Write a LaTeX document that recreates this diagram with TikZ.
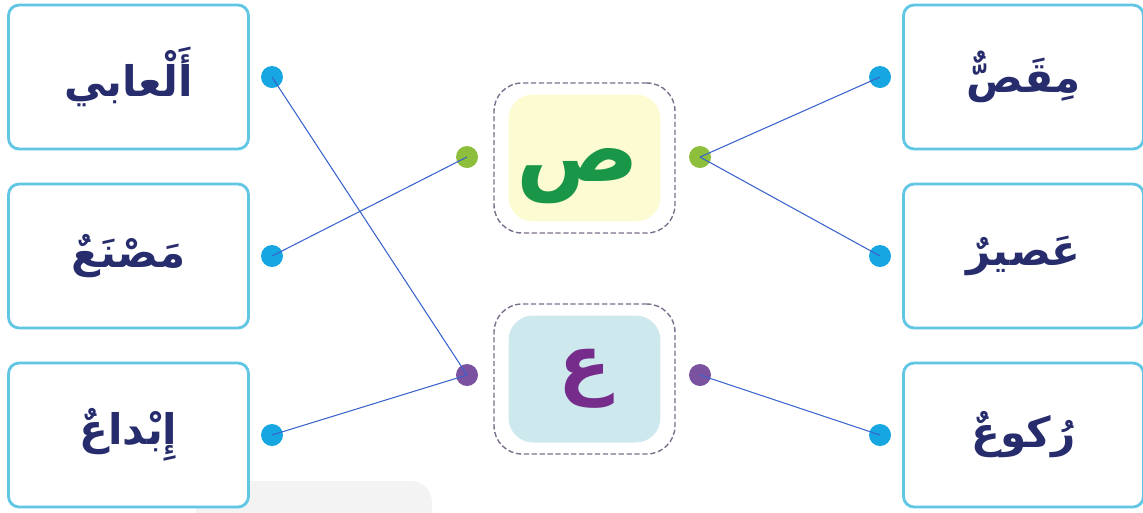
\documentclass[tikz,border=0pt]{standalone}
\usepackage{fontspec}
\newfontfamily\arabicfont[Script=Arabic]{DejaVu Sans}
\TeXXeTstate=1
\usetikzlibrary{positioning}
\definecolor{boxblue}{RGB}{96,198,228}
\definecolor{dotblue}{RGB}{22,166,226}
\definecolor{dotgreen}{RGB}{141,190,60}
\definecolor{dotpurple}{RGB}{122,82,160}
\definecolor{wordnavy}{RGB}{38,44,108}
\definecolor{lettergreen}{RGB}{26,150,72}
\definecolor{letterpurple}{RGB}{118,44,138}
\definecolor{paleyellow}{RGB}{253,251,210}
\definecolor{paleteal}{RGB}{206,233,237}
\definecolor{dashgrey}{RGB}{125,112,140}
\definecolor{lineblue}{RGB}{58,98,205}
\definecolor{fadegrey}{RGB}{243,243,243}

\tikzset{
  wordbox/.style={draw=boxblue, line width=1.6pt, rounded corners=6pt, fill=white,
    minimum width=4.8cm, minimum height=2.88cm, inner sep=0pt,
    font=\arabicfont\bfseries\fontsize{24}{28}\selectfont, text=wordnavy},
  matchdot/.style={circle, minimum size=0.44cm, inner sep=0pt},
  letterpad/.style={rounded corners=14pt, minimum width=3.04cm, minimum height=2.54cm,
    inner sep=0pt},
  bigletter/.style={inner sep=0pt, font=\arabicfont\bfseries\fontsize{#1}{#1}\selectfont},
  letterframe/.style={draw=dashgrey, dash pattern=on 3pt off 1.5pt, line width=0.8pt,
    rounded corners=16pt, minimum width=3.62cm, minimum height=3cm, inner sep=0pt},
  answer/.style={draw=lineblue, line width=0.6pt}
}

\begin{document}
\begin{tikzpicture}[x=0.02cm, y=-0.02cm]
    \useasboundingbox (0,0) rectangle (1143,512);
    % faint tab at the bottom
    \fill[fadegrey, rounded corners=12pt] (196,481) rectangle (432,540);
    % left words
    \foreach \n/\y/\w in {1/77/{أَلْعابي}, 2/256/{مَصْنَعٌ}, 3/435/{إِبْداعٌ}}{
      \node[wordbox] (lw\n) at (128.5,\y) {\beginR\w\endR};
      \node[matchdot, fill=dotblue] (ld\n) at (272,\y) {};
    }
    % right words
    \foreach \n/\y/\w in {1/77/{مِقَصٌّ}, 2/256/{عَصيرٌ}, 3/435/{رُكوعٌ}}{
      \node[wordbox] (rw\n) at (1023.5,\y) {\beginR\w\endR};
      \node[matchdot, fill=dotblue] (rd\n) at (880,\y) {};
    }
    % letter sad
    \node[letterpad, fill=paleyellow] (spad) at (584.5,158) {};
    \node[letterframe] (sframe) at (584.5,158) {};
    \node[bigletter=52, text=lettergreen] (slet) at (578,176) {\beginR ص\endR};
    \node[matchdot, fill=dotgreen] (sdl) at (467,157) {};
    \node[matchdot, fill=dotgreen] (sdr) at (700,157) {};
    % letter ain
    \node[letterpad, fill=paleteal] (apad) at (584.5,379) {};
    \node[letterframe] (aframe) at (584.5,379) {};
    \node[bigletter=44, text=letterpurple] (alet) at (584.5,379) {\beginR ع\endR};
    \node[matchdot, fill=dotpurple] (adl) at (467,375) {};
    \node[matchdot, fill=dotpurple] (adr) at (700,375) {};
    % answer lines
    \draw[answer] (ld1.center) -- (adl.center);
    \draw[answer] (ld2.center) -- (sdl.center);
    \draw[answer] (ld3.center) -- (adl.center);
    \draw[answer] (sdr.center) -- (rd1.center);
    \draw[answer] (sdr.center) -- (rd2.center);
    \draw[answer] (adr.center) -- (rd3.center);
\end{tikzpicture}
\end{document}
